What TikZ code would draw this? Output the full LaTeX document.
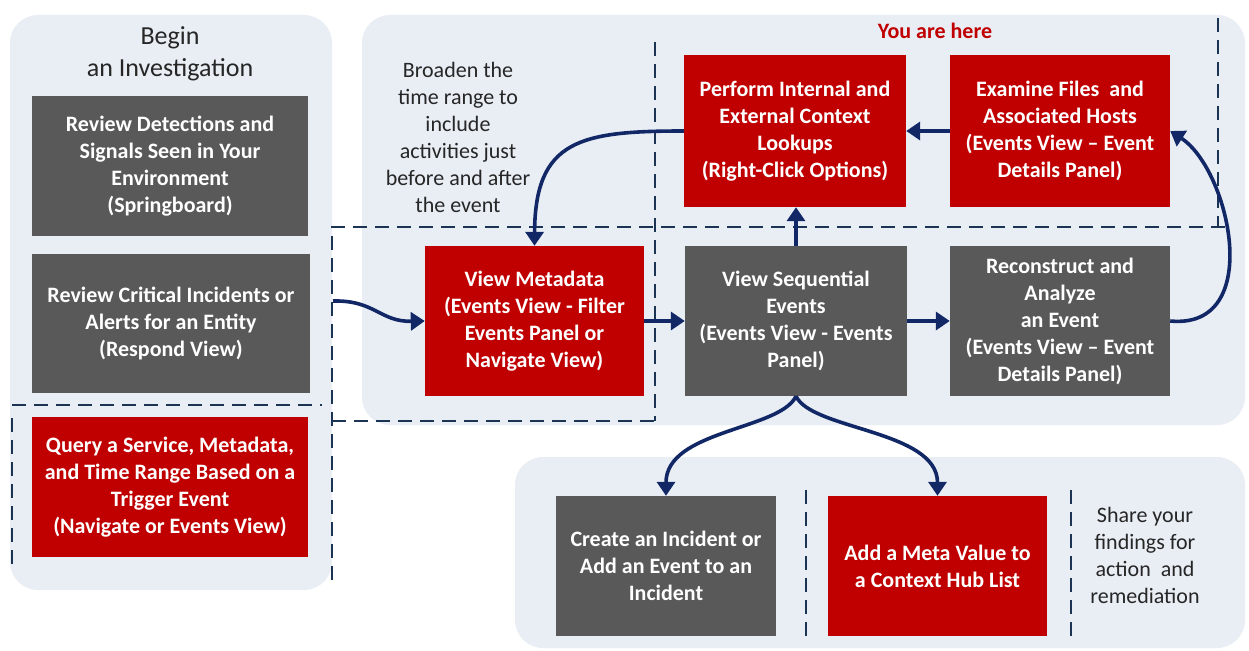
\documentclass[tikz,border=0pt]{standalone}
\usepackage{fontspec}
\setmainfont{Carlito}
\usetikzlibrary{arrows.meta}
\definecolor{panel}{RGB}{233,238,245}
\definecolor{boxred}{RGB}{192,0,0}
\definecolor{boxgrey}{RGB}{89,89,89}
\definecolor{arrowblue}{RGB}{18,40,102}
\definecolor{dashblue}{RGB}{28,52,84}
\definecolor{textdark}{RGB}{38,38,38}
\begin{document}
\begin{tikzpicture}[x=1pt,y=1pt,
  box/.style={rectangle, inner sep=0pt, text=white, font=\fontsize{22}{27}\selectfont\bfseries, align=center},
  redbox/.style={box, fill=boxred},
  greybox/.style={box, fill=boxgrey},
  flow/.style={draw=arrowblue, line width=3.6pt, -{Triangle[length=14pt,width=18pt]}},
  sepline/.style={draw=dashblue, line width=2.5pt, dash pattern=on 14pt off 8pt},
  panelbg/.style={fill=panel, rounded corners=28pt},
  note/.style={text=textdark, font=\fontsize{22}{27}\selectfont, align=center}]
\useasboundingbox (0,0) rectangle (1249,-650);
\fill[white] (0,0) rectangle (1249,-650);
% panels
\path[panelbg] (10,-15) rectangle (332,-590);
\path[panelbg] (362,-15) rectangle (1245,-425);
\path[panelbg] (515,-457) rectangle (1245,-648);
% dashed separators
\path[sepline] (12,-405) -- (322,-405);
\path[sepline] (12,-418) -- (12,-568);
\path[sepline] (332,-580) -- (332,-227) -- (1232,-227);
\path[sepline] (332,-421) -- (655,-421);
\path[sepline] (655,-42) -- (655,-421);
\path[sepline] (1218,-18) -- (1218,-227);
\path[sepline] (806,-490) -- (806,-642);
\path[sepline] (1071,-490) -- (1071,-642);
% texts
\node[note, font=\fontsize{26}{32}\selectfont] (begin) at (170,-54) {Begin\\an Investigation};
\node[note] (broaden) at (458,-137) {Broaden the\\time range to\\include\\activities just\\before and after\\the event};
\node[note, text=boxred, font=\fontsize{22}{27}\selectfont\bfseries] (here) at (935,-31) {You are here};
\node[note] (share) at (1145,-555) {Share your\\findings for\\action~ and\\remediation};
% boxes
\node[greybox, minimum width=276, minimum height=140] (detect) at (170,-166) {Review Detections and\\Signals Seen in Your\\Environment\\(Springboard)};
\node[greybox, minimum width=278, minimum height=139] (crit) at (171,-323.5) {Review Critical Incidents or\\Alerts for an Entity\\(Respond View)};
\node[redbox, minimum width=276, minimum height=140] (query) at (170,-487) {Query a Service, Metadata,\\and Time Range Based on a\\Trigger Event\\(Navigate or Events View)};
\node[redbox, minimum width=219, minimum height=150] (meta) at (534.5,-321) {View Metadata\\(Events View - Filter\\Events Panel or\\Navigate View)};
\node[greybox, minimum width=222, minimum height=150] (seq) at (796,-321) {View Sequential\\Events\\(Events View - Events\\Panel)};
\node[greybox, minimum width=220, minimum height=150] (recon) at (1060,-321) {Reconstruct and\\Analyze\\an Event\\(Events View -- Event\\Details Panel)};
\node[redbox, minimum width=222, minimum height=152] (perf) at (795,-131) {Perform Internal and\\External Context\\Lookups\\(Right-Click Options)};
\node[redbox, minimum width=220, minimum height=152] (exam) at (1060,-131) {Examine Files~ and\\Associated Hosts\\(Events View -- Event\\Details Panel)};
\node[greybox, minimum width=220, minimum height=140] (create) at (666,-566) {Create an Incident or\\Add an Event to an\\Incident};
\node[redbox, minimum width=219, minimum height=140] (addmeta) at (937.5,-566) {Add a Meta Value to\\a Context Hub List};
% connectors
\coordinate (critout) at (333,-301);
\draw[flow] (critout) .. controls (375,-300) and (380,-322) .. (meta.west);
\draw[flow] (meta.east) -- (seq.west);
\draw[flow] (seq.east) -- (recon.west);
\draw[flow] (seq.north) -- (seq.north |- perf.south);
\draw[flow] (exam.west) -- (perf.east);
\draw[flow] (perf.west) .. controls (580,-131) and (535,-140) .. (meta.north);
\draw[flow] (recon.east) .. controls (1265,-330) and (1230,-170) .. (exam.east);
\draw[flow] (seq.south) .. controls (780,-430) and (666,-430) .. (create.north);
\draw[flow] (seq.south) .. controls (812,-430) and (937.5,-430) .. (addmeta.north);
\end{tikzpicture}
\end{document}
